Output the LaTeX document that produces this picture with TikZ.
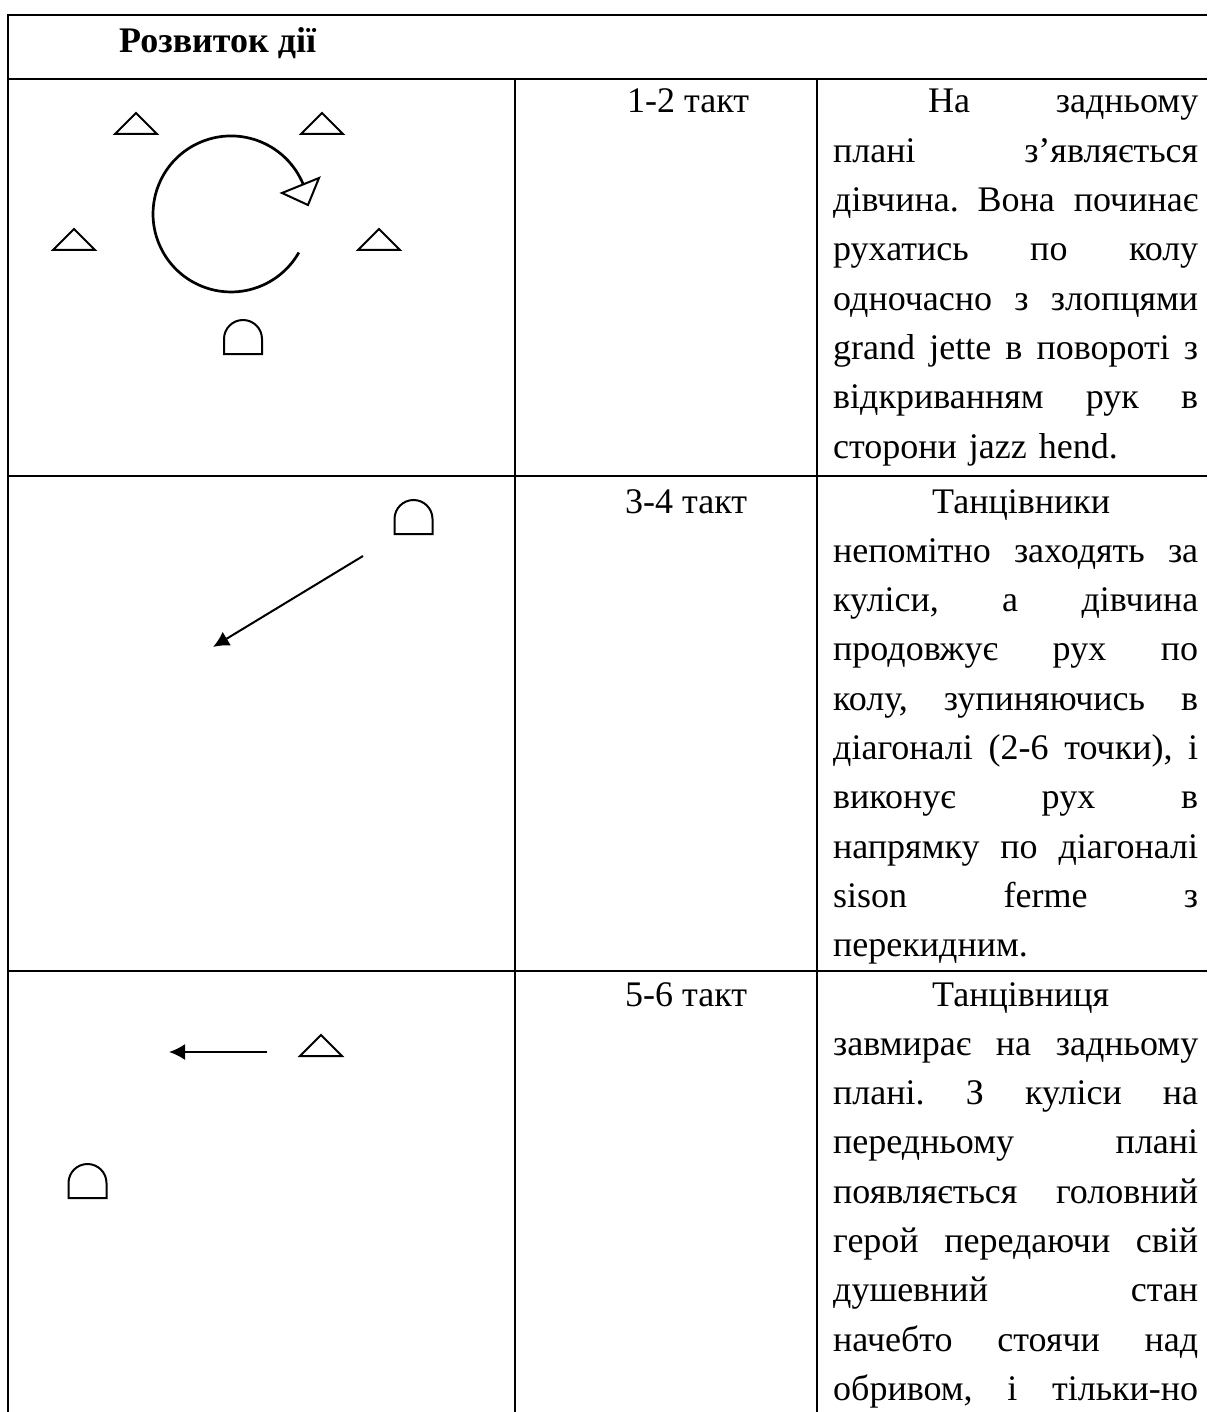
\documentclass[tikz,border=0pt]{standalone}
\usepackage{fontspec}
\setmainfont{Liberation Serif}
\usetikzlibrary{arrows.meta}
\newcommand\jline[1]{\makebox[365pt][s]{#1}}
\begin{document}
\frenchspacing
\begin{tikzpicture}[x=1pt,y=-1pt,
  rule/.style={line width=2.5pt},
  sym/.style={line width=2pt,line join=miter},
  path circle/.style={line width=2.7pt},
  move/.style={line width=2pt,-{Latex[length=16pt,width=16pt]}},
  txt/.style={inner sep=0pt,anchor=base west,font=\fontsize{36}{49.3}\selectfont},
  cell/.style={txt,text width=365pt},
  boy/.pic={\draw[sym] (0,0) -- (-21,21) -- (21,21) -- cycle;},
  girl/.pic={\draw[sym] (-19,15) -- (-19,0) arc[start angle=180,end angle=360,radius=19] -- (19,15) -- cycle;}
]
\useasboundingbox (0,0) rectangle (1207,1412);
\fill[white] (0,0) rectangle (1207,1412);

% table rules
\draw[rule] (8,1412) -- (8,15) -- (1207,15);
\draw[rule] (8,79) -- (1207,79);
\draw[rule] (8,476) -- (1207,476);
\draw[rule] (8,971) -- (1207,971);
\draw[rule] (515,79) -- (515,1412);
\draw[rule] (817,79) -- (817,1412);

% header
\node[txt,font=\fontsize{36}{49.3}\selectfont\bfseries] (head) at (119,53) {Розвиток дії};

% column 2
\node[txt] (t1) at (627,113) {1-2 такт};
\node[txt] (t2) at (625,513) {3-4 такт};
\node[txt] (t3) at (625,1006) {5-6 такт};

% column 3
\node[cell] (c1) at (833,113) {\noindent\hspace*{95pt}\makebox[270pt][s]{На\hfill задньому}\\
\jline{плані\hfill з’являється}\\
\jline{дівчина.\hfill Вона\hfill починає}\\
\jline{рухатись\hfill по\hfill колу}\\
\jline{одночасно\hfill з\hfill злопцями}\\
\jline{grand\hfill jette\hfill в\hfill повороті\hfill з}\\
\jline{відкриванням\hfill рук\hfill в}\\
сторони jazz hend.};

\node[cell] (c2) at (833,513) {\noindent\hspace*{99pt}Танцівники\\
\jline{непомітно\hfill заходять\hfill за}\\
\jline{куліси,\hfill а\hfill дівчина}\\
\jline{продовжує\hfill рух\hfill по}\\
\jline{колу,\hfill зупиняючись\hfill в}\\
\jline{діагоналі\hfill (2-6\hfill точки),\hfill і}\\
\jline{виконує\hfill рух\hfill в}\\
\jline{напрямку\hfill по\hfill діагоналі}\\
\jline{sison\hfill ferme\hfill з}\\
перекидним.};

\node[cell] (c3) at (833,1006) {\noindent\hspace*{99pt}Танцівниця\\
\jline{завмирає\hfill на\hfill задньому}\\
\jline{плані.\hfill З\hfill куліси\hfill на}\\
\jline{передньому\hfill плані}\\
\jline{появляється\hfill головний}\\
\jline{герой\hfill передаючи\hfill свій}\\
\jline{душевний\hfill стан}\\
\jline{начебто\hfill стоячи\hfill над}\\
\jline{обривом,\hfill і\hfill тільки-но}};

% row 1 scheme
\pic at (136,113) {boy};
\pic at (322,113) {boy};
\pic at (74,229) {boy};
\pic at (379,229) {boy};
\coordinate (arcstart) at (303.1,184.1);
\draw[path circle] (arcstart) arc[start angle=-22.5,end angle=-330.4,radius=78];
\draw[sym] (282,193) -- (319,178) -- (308,205) -- cycle;
\pic at (243,339) {girl};

% row 2 scheme
\pic at (413.5,519) {girl};
\coordinate (m2s) at (363,556);
\coordinate (m2e) at (213,647);
\draw[move] (m2s) -- (m2e);

% row 3 scheme
\pic at (321,1035) {boy};
\coordinate (m3s) at (267,1052);
\coordinate (m3e) at (169,1052);
\draw[move] (m3s) -- (m3e);
\pic at (87.5,1183) {girl};
\end{tikzpicture}
\end{document}
